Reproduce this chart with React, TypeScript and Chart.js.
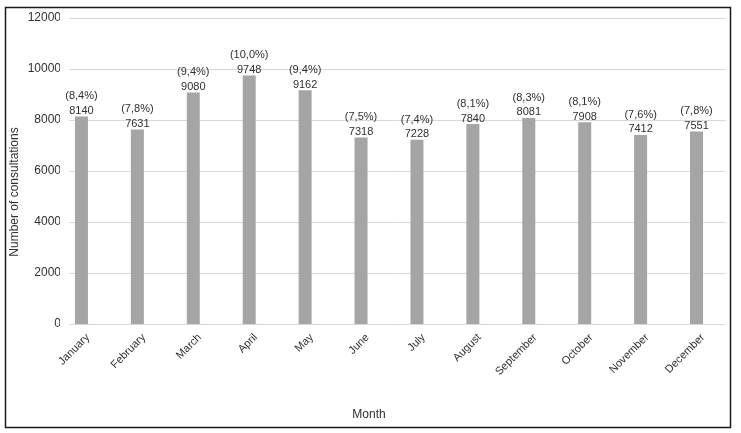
import React, { useEffect, useRef } from "react";
import { Chart, registerables } from "chart.js";

Chart.register(...registerables);

const months = [
  "January",
  "February",
  "March",
  "April",
  "May",
  "June",
  "July",
  "August",
  "September",
  "October",
  "November",
  "December",
];
const consultations = [8140, 7631, 9080, 9748, 9162, 7318, 7228, 7840, 8081, 7908, 7412, 7551];
const percentages = [8.4, 7.8, 9.4, 10.0, 9.4, 7.5, 7.4, 8.1, 8.3, 8.1, 7.6, 7.8];
const yMin = 0;
const yMax = 12000;
const yStep = 2000;
const yTitle = "Number of consultations";
const xTitle = "Month";

const FONT = "'Liberation Sans', Arial, sans-serif";
const TEXT = "#303030";

const fmtPct = (p: number) => "(" + p.toFixed(1).replace(".", ",") + "%)";

const decor = {
  id: "decor",
  beforeDatasetsDraw(chart: any) {
    const { ctx, chartArea, scales } = chart;
    const y = scales.y;
    ctx.save();
    ctx.strokeStyle = "#d9d9d9";
    ctx.lineWidth = 1;
    y.ticks.forEach((t: any) => {
      const py = Math.round(y.getPixelForValue(t.value)) + 0.5;
      ctx.beginPath();
      ctx.moveTo(chartArea.left + 9, py);
      ctx.lineTo(chartArea.right - 5, py);
      ctx.stroke();
    });
    ctx.restore();
  },
  afterDatasetsDraw(chart: any) {
    const { ctx } = chart;
    const meta = chart.getDatasetMeta(0);
    ctx.save();
    ctx.fillStyle = TEXT;
    ctx.font = "11px " + FONT;
    ctx.textAlign = "center";
    ctx.textBaseline = "alphabetic";
    meta.data.forEach((bar: any, i: number) => {
      const x = bar.x;
      const top = bar.y;
      ctx.fillText(String(consultations[i]), x, top - 2.5);
      ctx.fillText(fmtPct(percentages[i]), x, top - 17);
    });
    ctx.restore();
  },
  afterDraw(chart: any) {
    const { ctx } = chart;
    ctx.save();
    ctx.strokeStyle = "#1a1a1a";
    ctx.lineWidth = 1.5;
    ctx.strokeRect(5.5, 7.5, 725, 420);
    ctx.fillStyle = TEXT;
    ctx.font = "12px " + FONT;
    ctx.textAlign = "center";
    ctx.textBaseline = "middle";
    ctx.fillText(xTitle, 369, 415);
    ctx.translate(15, 192);
    ctx.rotate(-Math.PI / 2);
    ctx.fillText(yTitle, 0, 0);
    ctx.restore();
  },
};

export default function App() {
  const ref = useRef<HTMLCanvasElement | null>(null);

  useEffect(() => {
    if (!ref.current) return;
    const chart = new Chart(ref.current, {
      type: "bar",
      data: {
        labels: months,
        datasets: [
          {
            label: "Consultations",
            data: consultations,
            backgroundColor: "#a5a5a5",
            categoryPercentage: 0.465,
            barPercentage: 1,
          },
          {
            label: "Percentage",
            data: percentages,
            backgroundColor: "#ececec",
            categoryPercentage: 0.465,
            barPercentage: 1,
          },
        ],
      },
      options: {
        responsive: false,
        animation: false,
        devicePixelRatio: 1,
        layout: { padding: { left: 0, right: 10, top: 18, bottom: 0 } },
        plugins: {
          legend: { display: false },
          tooltip: { enabled: false },
          title: { display: false },
        },
        scales: {
          x: {
            grid: { display: false, drawTicks: false },
            border: { display: false },
            ticks: {
              autoSkip: false,
              minRotation: 45,
              maxRotation: 45,
              padding: 7,
              color: TEXT,
              font: { family: FONT, size: 11 },
            },
            afterFit: (s: any) => {
              s.height = 109;
            },
          },
          y: {
            min: yMin,
            max: yMax,
            grid: { display: false, drawTicks: false },
            border: { display: false },
            ticks: {
              stepSize: yStep,
              padding: -1,
              color: TEXT,
              font: { family: FONT, size: 12 },
              callback: (v: any) => String(v),
            },
            afterFit: (s: any) => {
              s.width = 60;
            },
          },
        },
      } as any,
      plugins: [decor],
    });
    return () => chart.destroy();
  }, []);

  return (
    <div style={{ position: "fixed", left: 0, top: 0, width: 741, height: 433, background: "#fff" }}>
      <canvas ref={ref} width={741} height={433} style={{ display: "block", width: 741, height: 433 }} />
    </div>
  );
}
